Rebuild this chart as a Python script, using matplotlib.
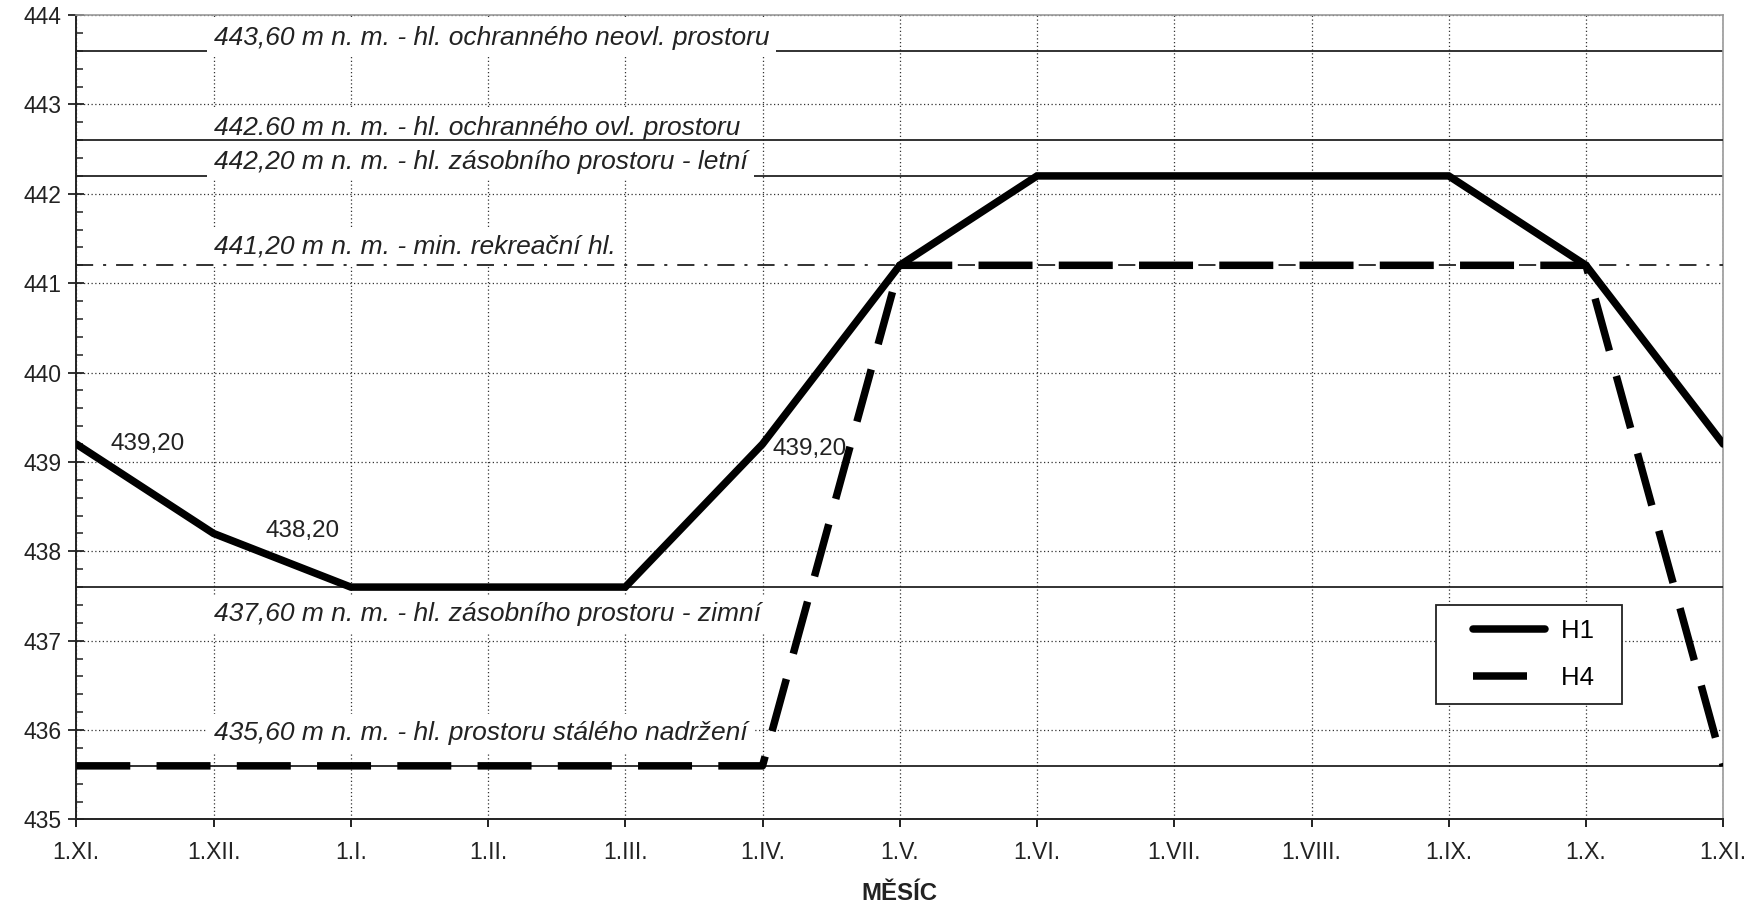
import matplotlib
matplotlib.use("Agg")
import matplotlib.pyplot as plt
from matplotlib.ticker import MultipleLocator
from matplotlib.legend_handler import HandlerLine2D

plt.rcParams['font.family'] = ['Liberation Sans', 'DejaVu Sans']

# months on the x axis (positions 0..12)
months = ["1.XI.", "1.XII.", "1.I.", "1.II.", "1.III.", "1.IV.", "1.V.",
          "1.VI.", "1.VII.", "1.VIII.", "1.IX.", "1.X.", "1.XI."]

# H1 and H4 levels at each month [m n. m.]
h1_x = [0, 1, 2, 4, 5, 6, 7, 10, 11, 12]
h1_y = [439.2, 438.2, 437.6, 437.6, 439.2, 441.2, 442.2, 442.2, 441.2, 439.2]
h4_x = [0, 5, 6, 11, 12]
h4_y = [435.6, 435.6, 441.2, 441.2, 435.6]

# reference levels: value, label, label baseline, style, label covers line
levels = [443.6, 442.6, 442.2, 441.2, 437.6, 435.6]
level_labels = [
    "443,60 m n. m. - hl. ochranného neovl. prostoru",
    "442.60 m n. m. - hl. ochranného ovl. prostoru",
    "442,20 m n. m. - hl. zásobního prostoru - letní",
    "441,20 m n. m. - min. rekreační hl.",
    "437,60 m n. m. - hl. zásobního prostoru - zimní",
    "435,60 m n. m. - hl. prostoru stálého nadržení",
]
level_text_y = [443.67, 442.66, 442.28, 441.33, 437.225, 435.89]
level_dashdot = [False, False, False, True, False, False]
level_broken = [True, False, True, False, False, False]

# point labels on H1
point_labels = ["439,20", "438,20", "439,20"]
point_x = [0.25, 1.38, 5.07]
point_y = [439.2, 438.23, 439.15]

fig = plt.figure(figsize=(17.62, 9.06), dpi=100)
ax = fig.add_axes([0.0433, 0.0955, 0.9347, 0.8879])

ax.set_xlim(0, 12)
ax.set_ylim(435, 444)
ax.set_xticks(range(len(months)))
ax.set_xticklabels(months)
ax.yaxis.set_major_locator(MultipleLocator(1))
ax.yaxis.set_minor_locator(MultipleLocator(0.2))

ax.set_axisbelow(True)
ax.grid(True, which="major", color="#333333", linestyle=(0, (1, 2)), linewidth=0.9)

for name in ["top", "right"]:
    ax.spines[name].set_color("#999999")
    ax.spines[name].set_linewidth(1.2)
for name in ["left", "bottom"]:
    ax.spines[name].set_color("#222222")
    ax.spines[name].set_linewidth(1.4)

ax.tick_params(axis="x", which="major", direction="out", length=5.5, width=1.4,
               labelsize=16.5, pad=10, colors="#222222")
ax.tick_params(axis="y", which="major", direction="inout", length=11, width=1.3,
               labelsize=16.5, pad=5, colors="#222222")
ax.tick_params(axis="y", which="minor", direction="in", length=5, width=1.1,
               colors="#222222")

# reference levels
for lev, lab, ty, dd, br in zip(levels, level_labels, level_text_y,
                                level_dashdot, level_broken):
    if dd:
        ax.axhline(lev, color="#222222", linewidth=1.3,
                   linestyle=(0, (9.5, 5.5, 1.7, 5.5)), zorder=3)
    else:
        ax.axhline(lev, color="#222222", linewidth=1.3,
                   zorder=2 if br else 3)
    ax.text(1.0, ty, lab, fontsize=19, style="italic", color="#222222",
            ha="left", va="baseline", zorder=2.5,
            bbox=dict(boxstyle="square,pad=0.25", facecolor="white",
                      edgecolor="none"))

ax.plot(h1_x, h1_y, color="black", linewidth=5.4, solid_capstyle="round",
        solid_joinstyle="miter", label="H1", zorder=5)
ax.plot(h4_x, h4_y, color="black", linewidth=5.4, linestyle=(0, (7.2, 3.5)),
        dash_capstyle="butt", label="H4", zorder=4)

for lab, px, py in zip(point_labels, point_x, point_y):
    ax.text(px, py, lab, fontsize=17.5, color="#222222", ha="left",
            va="center", zorder=6)

handles, labels = ax.get_legend_handles_labels()
leg = ax.legend(handles, [l + "  " for l in labels],
                loc="lower right", bbox_to_anchor=(0.9386, 0.143),
                fontsize=18.5, frameon=True, fancybox=False, framealpha=1,
                edgecolor="#222222", handlelength=3.7, handletextpad=0.62,
                borderpad=0.55, labelspacing=0.92, borderaxespad=0,
                handler_map={h: HandlerLine2D(xpad=0.92) for h in handles})
leg.get_frame().set_linewidth(1.3)

ax.set_xlabel("MĚSÍC", fontsize=17.3, fontweight="bold", labelpad=13,
              color="#222222")

fig.savefig("out.png", dpi=100)
